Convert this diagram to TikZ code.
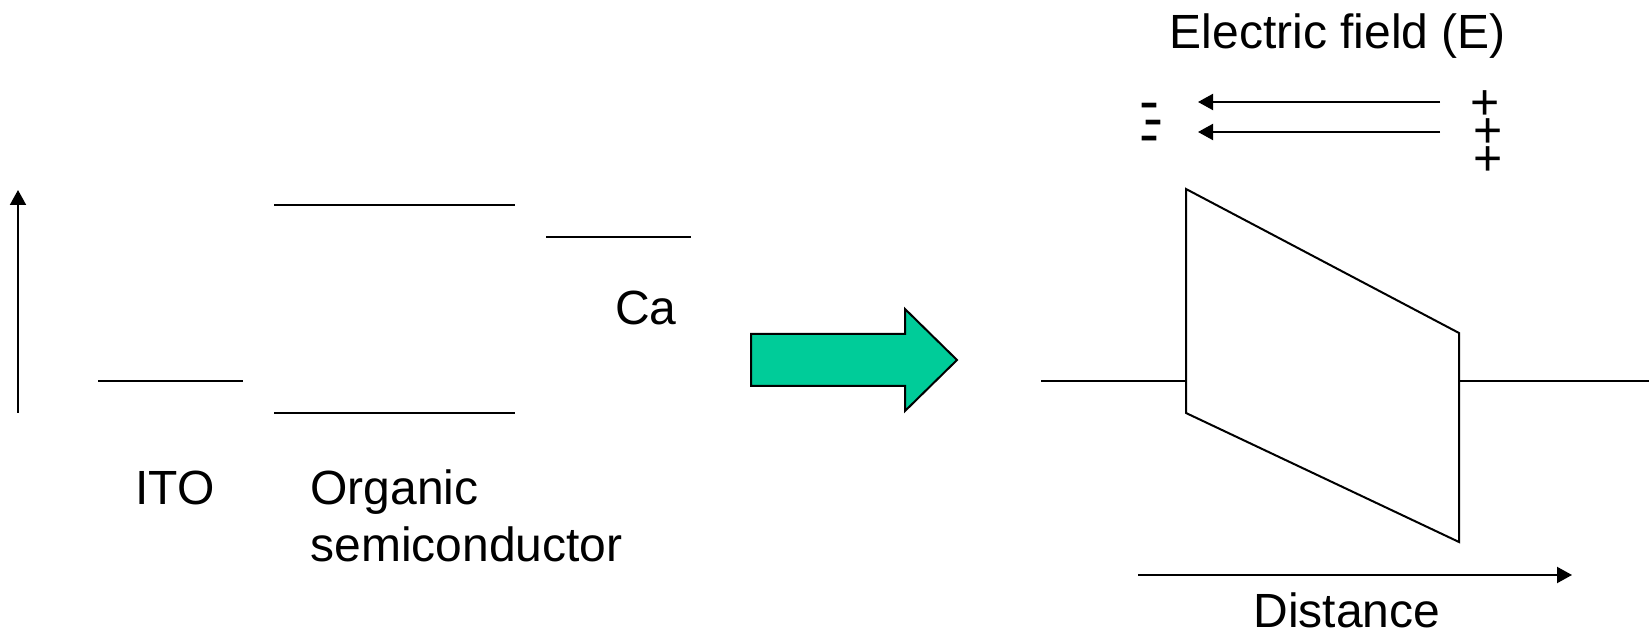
\documentclass[tikz,border=0pt]{standalone}
\usepackage{fontspec}
\setmainfont{Liberation Sans}
\usetikzlibrary{arrows.meta}
\definecolor{arrowgreen}{HTML}{00CC99}
\tikzset{
  level/.style={line width=1pt},
  axis/.style={line width=1pt, -{Triangle[length=7.5pt,width=8pt]}},
  label/.style={inner sep=0pt, anchor=base, font=\fontsize{24}{28.5}\selectfont},
  charge/.style={inner sep=0pt, anchor=base, font=\fontsize{25}{28}\selectfont},
  neg/.style={inner sep=0pt, anchor=base west, font=\fontsize{30}{34}\selectfont},
}
% three stacked minus signs, set closer than normal line spacing
\newcommand{\minusstack}{\vbox{\baselineskip=8.25pt\lineskiplimit=-100pt
  \hbox{-}\hbox{\kern2pt -}\hbox{-}}}
\begin{document}
\begin{tikzpicture}[x=0.5pt, y=-0.5pt]
  \useasboundingbox (0,0) rectangle (1649,635);

  % energy axis
  \coordinate (eBot) at (18,413);
  \coordinate (eTop) at (18,190);
  \draw[axis] (eBot) -- (eTop);

  % energy levels before contact
  \coordinate (itoL) at (98,381);   \coordinate (itoR) at (243,381);
  \coordinate (lumoL) at (274,205); \coordinate (lumoR) at (515,205);
  \coordinate (homoL) at (274,413); \coordinate (homoR) at (515,413);
  \coordinate (caL) at (546,237);   \coordinate (caR) at (691,237);
  \draw[level] (itoL) -- (itoR);
  \draw[level] (lumoL) -- (lumoR);
  \draw[level] (homoL) -- (homoR);
  \draw[level] (caL) -- (caR);

  \node[label] (ito) at (175,505) {ITO};
  \node[label, anchor=base west] (org) at (310,505) {Organic};
  \node[label, anchor=base west] (semi) at (310,562) {semiconductor};
  \node[label] (ca) at (646,325) {Ca};

  % block arrow
  \draw[line width=1pt, fill=arrowgreen]
    (751,334) -- (905,334) -- (905,309) -- (957,360) -- (905,411)
    -- (905,386) -- (751,386) -- cycle;

  % bands after contact: tilted by the built-in field
  \coordinate (pA) at (1186,189);
  \coordinate (pB) at (1459,333);
  \coordinate (pC) at (1459,542);
  \coordinate (pD) at (1186,413);
  \coordinate (leftEnd) at (1041,381);
  \coordinate (leftJoin) at (1186,381);
  \coordinate (rightJoin) at (1459,381);
  \coordinate (rightEnd) at (1649,381);
  \draw[level] (pA) -- (pB) -- (pC) -- (pD) -- cycle;
  \draw[level] (leftEnd) -- (leftJoin);
  \draw[level] (rightJoin) -- (rightEnd);

  % distance axis
  \coordinate (dL) at (1138,575);
  \coordinate (dR) at (1572,575);
  \draw[axis] (dL) -- (dR);
  \node[label] (dist) at (1347,627) {Distance};

  % field
  \node[label] (field) at (1338,49) {Electric field (E)};
  \coordinate (f1s) at (1440,102); \coordinate (f1e) at (1198,102);
  \coordinate (f2s) at (1440,132); \coordinate (f2e) at (1198,132);
  \draw[axis] (f1s) -- (f1e);
  \draw[axis] (f2s) -- (f2e);

  \node[neg] (minus) at (1139.5,155) {\minusstack};

  \node[charge] (p1) at (1485,120) {+};
  \node[charge] (p2) at (1488,148) {+};
  \node[charge] (p3) at (1488,176) {+};
\end{tikzpicture}
\end{document}
